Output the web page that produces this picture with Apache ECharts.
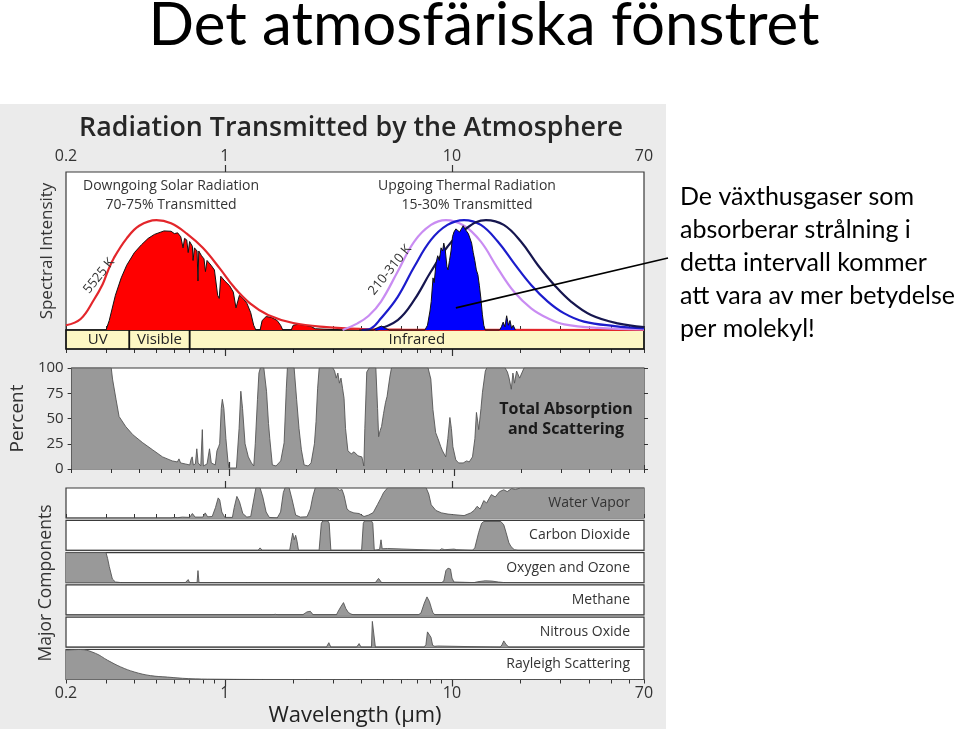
<!DOCTYPE html>
<html>
<head>
<meta charset="utf-8">
<title>Det atmosfäriska fönstret</title>
<script src="https://cdn.jsdelivr.net/npm/echarts@6/dist/echarts.min.js"></script>
<style>
html, body { margin: 0; padding: 0; background: #fff; }
#chart { width: 960px; height: 729px; }
</style>
</head>
<body>
<div id="chart"></div>
<script>
// wavelength axis (µm)
const minorTicks = [0.2, 0.3, 0.4, 0.5, 0.6, 0.7, 0.8, 0.9, 1, 2, 3, 4, 5, 6, 7, 8, 9, 10, 20, 30, 40, 50, 60, 70];
const majorTicks = [1, 10];
const percentTicks = [0, 25, 50, 75, 100];

// spectral band strip
const bandNames = ['UV', 'Visible', 'Infrared'];
const bandEdges = [0.2, 0.38, 0.7, 70];

// top panel: spectral intensity, 100 = top of the frame
const solarBlackbody = [[0.2, 3], [0.232, 7], [0.265, 19], [0.29, 29], [0.305, 37], [0.325, 45.6], [0.37, 58], [0.42, 66], [0.5, 69.6], [0.58, 67.5], [0.68, 61], [0.8, 52], [0.95, 39], [1.1, 27], [1.3, 16.5], [1.55, 9.5], [2.0, 4.4], [2.8, 1.8], [4, 0.6], [6, 0.2], [70, 0]];
const solarTransmitted = [[0.3, 0], [0.31, 6], [0.33, 22], [0.35, 33], [0.37, 41], [0.4, 49], [0.43, 54], [0.46, 58], [0.49, 60.5], [0.54, 62.7], [0.58, 62.5], [0.6, 61], [0.62, 61.5], [0.64, 59], [0.655, 52], [0.665, 58], [0.68, 57], [0.69, 49], [0.70, 56], [0.72, 53], [0.725, 44], [0.735, 52], [0.755, 50], [0.762, 31], [0.768, 50], [0.79, 47], [0.81, 45], [0.822, 37], [0.835, 44], [0.87, 41], [0.9, 38], [0.93, 22], [0.945, 20], [0.96, 34], [1.0, 31], [1.05, 28], [1.09, 24], [1.12, 14], [1.135, 13], [1.16, 22], [1.2, 20], [1.25, 17], [1.3, 11], [1.34, 3], [1.37, 0], [1.43, 0], [1.46, 6], [1.52, 8.5], [1.6, 8], [1.7, 6], [1.76, 3], [1.8, 0], [1.96, 0], [2.0, 3], [2.1, 3.6], [2.25, 3], [2.4, 2.2], [2.5, 0.8], [2.55, 0], [3.3, 0], [3.45, 0.6], [3.8, 0.8], [4.1, 0.3], [4.2, 0]];
const thermal310 = [[3.3, 0], [3.84, 4.2], [4.3, 9], [4.87, 18], [5.77, 37], [6.82, 56], [8.08, 66.5], [9.4, 69.6], [11.3, 66], [13.4, 55.9], [15.9, 39], [18.8, 24], [22.3, 13.7], [26.4, 7.4], [31.2, 3.6], [43.8, 1.3], [70, 0.4]];
const thermal260 = [[4.0, 0], [4.4, 1], [4.87, 7.4], [5.77, 21], [6.82, 40], [8.08, 57], [9.55, 66.5], [11.3, 69.6], [13.4, 66.5], [15.9, 56], [18.8, 42], [22.3, 28.5], [26.4, 18], [31.2, 10.5], [38.1, 5.3], [52, 2.5], [70, 1]];
const thermal210 = [[4.6, 0], [5.77, 6.3], [6.82, 19], [8.08, 37], [9.55, 52.7], [11.3, 63.3], [14.1, 69.6], [16.9, 66.5], [20.1, 56], [23.9, 41], [28.2, 28.5], [33.4, 18], [40.9, 9.5], [53.6, 4.2], [70, 1.9]];
const thermalTransmitted = [[3.9, 0], [4.5, 0], [4.7, 1.5], [4.9, 2.5], [5.1, 1], [5.3, 0], [7.6, 0], [7.8, 3], [8.0, 12], [8.1, 18], [8.25, 33], [8.35, 30], [8.5, 42], [8.65, 47], [8.8, 44], [8.95, 52], [9.1, 50], [9.2, 55], [9.35, 50], [9.5, 40], [9.6, 38], [9.75, 44], [9.9, 50], [10.05, 59], [10.2, 62], [10.4, 64], [10.6, 65], [10.8, 62], [11.0, 64], [11.2, 66], [11.4, 64], [11.6, 63], [11.8, 61], [12.0, 62], [12.2, 55], [12.4, 49], [12.6, 44], [12.8, 38], [13.0, 35], [13.2, 28], [13.4, 20], [13.6, 10], [13.8, 3], [14.0, 0], [16.2, 0], [16.5, 2], [16.8, 5], [17.1, 2], [17.4, 9], [17.7, 3], [18.0, 6], [18.3, 1], [18.6, 3], [19, 0]];

// total absorption and scattering (%)
const totalAbsorption = [[0.2, 100], [0.3, 100], [0.304, 89], [0.315, 69], [0.325, 52], [0.348, 42], [0.374, 34], [0.414, 26], [0.458, 19], [0.507, 12], [0.56, 8], [0.59, 7], [0.6, 10], [0.61, 6], [0.64, 5], [0.67, 4], [0.68, 10], [0.687, 12], [0.695, 4], [0.71, 5], [0.72, 20], [0.73, 6], [0.75, 3], [0.762, 39], [0.77, 3], [0.8, 5], [0.82, 20], [0.835, 6], [0.87, 4], [0.885, 18], [0.9, 22], [0.91, 25], [0.925, 60], [0.935, 69], [0.95, 60], [0.97, 30], [0.99, 8], [1.0, 1], [1.08, 1], [1.11, 40], [1.13, 77], [1.15, 60], [1.18, 25], [1.22, 12], [1.26, 6], [1.29, 3], [1.31, 25], [1.34, 69], [1.36, 95], [1.38, 100], [1.43, 100], [1.47, 77], [1.5, 45], [1.52, 30], [1.56, 4], [1.62, 3], [1.7, 8], [1.76, 26], [1.8, 80], [1.82, 100], [1.95, 100], [2.0, 69], [2.05, 40], [2.1, 19], [2.16, 4], [2.25, 3], [2.32, 6], [2.4, 25], [2.44, 47], [2.48, 80], [2.52, 100], [2.9, 100], [2.95, 97], [3.0, 90], [3.05, 95], [3.1, 85], [3.15, 90], [3.2, 80], [3.25, 70], [3.3, 40], [3.38, 18], [3.5, 15], [3.6, 17], [3.75, 13], [3.9, 12], [3.98, 3], [4.02, 40], [4.1, 96], [4.2, 100], [4.5, 100], [4.58, 60], [4.63, 32], [4.7, 38], [4.77, 42], [4.87, 55], [4.97, 66], [5.05, 72], [5.1, 79], [5.2, 92], [5.28, 100], [7.68, 100], [7.9, 89], [8.07, 59], [8.3, 36], [8.5, 30], [8.75, 22], [8.9, 18], [9.1, 14], [9.2, 12], [9.4, 30], [9.6, 51], [9.75, 40], [9.9, 22], [10.2, 9], [10.5, 6], [11, 6], [11.4, 8], [11.7, 7], [12.1, 12], [12.4, 30], [12.6, 56], [12.8, 45], [12.9, 39], [13.2, 60], [13.4, 76], [13.8, 97], [14, 100], [16.9, 100], [17.3, 96], [17.6, 90], [18, 79], [18.3, 95], [18.6, 85], [19, 97], [19.6, 90], [20.5, 100], [70, 100]];

// major components (relative absorption, 0-100 in each strip)
const componentNames = ['Water Vapor', 'Carbon Dioxide', 'Oxygen and Ozone', 'Methane', 'Nitrous Oxide', 'Rayleigh Scattering'];
const waterVapor = [[0.2, 0], [0.58, 0], [0.6, 2], [0.62, 1], [0.65, 3], [0.66, 1], [0.7, 2], [0.72, 15], [0.74, 3], [0.8, 3], [0.82, 17], [0.84, 4], [0.88, 5], [0.91, 35], [0.935, 67], [0.95, 60], [0.97, 20], [1.0, 2], [1.08, 2], [1.1, 35], [1.13, 72], [1.16, 55], [1.2, 15], [1.25, 3], [1.3, 5], [1.34, 60], [1.37, 100], [1.43, 100], [1.47, 70], [1.52, 20], [1.57, 2], [1.7, 0], [1.76, 20], [1.81, 85], [1.84, 100], [1.92, 100], [1.98, 60], [2.05, 10], [2.15, 3], [2.3, 4], [2.38, 30], [2.44, 72], [2.5, 100], [3.1, 100], [3.2, 92], [3.28, 95], [3.35, 75], [3.45, 30], [3.55, 22], [3.7, 17], [3.9, 15], [4.1, 5], [4.3, 10], [4.5, 18], [4.7, 45], [4.87, 67], [5.0, 85], [5.2, 100], [7.7, 100], [7.9, 80], [8.1, 44], [8.5, 25], [9, 17], [9.6, 13], [10.2, 11], [11.3, 8], [12.1, 17], [12.5, 25], [12.9, 39], [13.3, 30], [13.8, 58], [14.2, 50], [14.9, 78], [15.5, 70], [16.2, 88], [16.9, 94], [17.5, 88], [18.3, 98], [19, 95], [20, 100], [70, 100]];
const carbonDioxide = [[0.2, 0], [1.4, 0], [1.43, 8], [1.46, 0], [1.56, 0], [1.59, 4], [1.62, 0], [1.93, 0], [1.96, 30], [1.99, 57], [2.02, 35], [2.05, 50], [2.08, 30], [2.11, 0], [2.6, 0], [2.66, 90], [2.7, 98], [2.84, 98], [2.88, 90], [2.93, 0], [4.0, 0], [4.07, 90], [4.12, 98], [4.42, 98], [4.48, 90], [4.55, 0], [4.8, 3], [4.87, 35], [4.93, 5], [5.2, 6], [5.3, 0], [8.8, 0], [9.0, 5], [9.3, 2], [10.2, 4], [10.5, 2], [12.3, 0], [12.6, 8], [13.1, 59], [13.5, 90], [13.8, 96], [16.4, 96], [16.9, 85], [17.3, 59], [17.8, 25], [18.2, 12], [18.8, 2], [19.5, 0], [70, 0]];
const oxygenOzone = [[0.2, 100], [0.3, 100], [0.305, 80], [0.31, 54], [0.32, 12], [0.33, 2], [0.35, 0], [0.67, 0], [0.69, 10], [0.70, 0], [0.755, 0], [0.762, 40], [0.77, 0], [1.25, 0], [1.27, 6], [1.29, 0], [4.6, 0], [4.75, 14], [4.9, 0], [9.0, 0], [9.2, 5], [9.4, 40], [9.6, 48], [9.85, 45], [10.0, 15], [10.2, 2], [10.4, 0], [12.5, 0], [13, 3], [14, 6], [15, 5], [16, 2], [17, 0], [70, 0]];
const methane = [[0.2, 0], [1.6, 0], [1.67, 2], [1.72, 0], [2.2, 0], [2.3, 10], [2.38, 12], [2.45, 0], [3.1, 0], [3.14, 9], [3.24, 27], [3.33, 41], [3.41, 21], [3.5, 8], [3.59, 3], [3.7, 0], [7.1, 0], [7.3, 6], [7.55, 39], [7.76, 60], [7.95, 45], [8.1, 25], [8.22, 9], [8.4, 0], [70, 0]];
const nitrousOxide = [[0.2, 0], [2.8, 0], [2.87, 15], [2.93, 0], [3.8, 0], [3.9, 12], [3.98, 0], [4.42, 0], [4.46, 86], [4.55, 86], [4.6, 0], [7.55, 0], [7.68, 9], [7.8, 51], [7.95, 45], [8.08, 33], [8.22, 6], [8.4, 3], [8.65, 4], [8.8, 0], [16.3, 0], [16.6, 8], [16.9, 21], [17.3, 9], [17.8, 0], [70, 0]];
const rayleigh = [[0.2, 98], [0.232, 100], [0.27, 87], [0.305, 64], [0.348, 42], [0.4, 25], [0.47, 13], [0.56, 8], [0.69, 3], [0.9, 1], [2, 0], [70, 0]];
const componentData = [waterVapor, carbonDioxide, oxygenOzone, methane, nitrousOxide, rayleigh];

const noteLines = ['De växthusgaser som', 'absorberar strålning i', 'detta intervall kommer', 'att vara av mer betydelse', 'per molekyl!'];

const FIG_FONT = '"Open Sans", "DejaVu Sans", sans-serif';
const SLIDE_FONT = 'Lato, "Open Sans", sans-serif';

let myChart = echarts.init(document.getElementById('chart'));

// grids
let grids = [
  { left: 66, top: 172, width: 578, height: 158 },   // spectral intensity
  { left: 66, top: 330, width: 578, height: 19 },    // UV / Visible / Infrared
  { left: 66, top: 368, width: 578, height: 101 }    // percent
];
for (let i = 0; i < 6; i++) {
  grids.push({ left: 66, top: 488 + i * 32.3, width: 578, height: 30 });
}
grids = grids.map((g, i) => Object.assign({
  show: true,
  backgroundColor: i === 1 ? '#fdf7c4' : '#fff',
  borderColor: '#3a3a3a',
  borderWidth: 1.2,
  containLabel: false
}, g));

// x axes (log wavelength)
let xAxes = [];
let xIndex = {};
function addX(grid, position, ticks, label, name) {
  let base = {
    type: 'log', logBase: 10, min: 0.2, max: 70,
    gridIndex: grid, position: position,
    axisLine: { show: false },
    splitLine: { show: false },
    axisPointer: { show: false }
  };
  if (xIndex[grid] == null) xIndex[grid] = xAxes.length;
  if (!ticks) {
    xAxes.push(Object.assign(base, { axisTick: { show: false }, axisLabel: { show: false } }));
    return;
  }
  xAxes.push(Object.assign({}, base, {
    axisTick: { show: true, customValues: minorTicks, length: 4, lineStyle: { color: '#333', width: 1 } },
    axisLabel: label ? {
      show: true, fontSize: 16, color: '#333', fontFamily: FIG_FONT, margin: label.margin,
      formatter: v => String(+v.toPrecision(3))
    } : { show: false },
    name: name || '',
    nameLocation: 'middle',
    nameGap: 25,
    nameTextStyle: { fontSize: 22, color: '#222', fontFamily: FIG_FONT }
  }));
  xAxes.push(Object.assign({}, base, {
    axisTick: { show: true, customValues: majorTicks, length: 7, lineStyle: { color: '#333', width: 1.2 } },
    axisLabel: { show: false }
  }));
}
addX(0, 'top', true, { margin: 8 });
addX(1, 'bottom', true, null);
addX(2, 'top', true, null);
addX(2, 'bottom', true, null);
addX(3, 'top', true, null);
addX(4, 'bottom', false);
addX(5, 'bottom', false);
addX(6, 'bottom', false);
addX(7, 'bottom', false);
addX(8, 'bottom', true, { margin: 6 }, 'Wavelength (μm)');

// y axes
let yAxes = [];
let yIndex = {};
function hiddenY(grid, max, name, gap) {
  yIndex[grid] = yAxes.length;
  yAxes.push({
    type: 'value', gridIndex: grid, min: 0, max: max,
    axisLine: { show: false }, axisTick: { show: false }, axisLabel: { show: false },
    splitLine: { show: false },
    name: name || '', nameLocation: 'middle', nameGap: gap || 0,
    nameTextStyle: { fontSize: 17, color: '#333', fontFamily: FIG_FONT }
  });
}
hiddenY(0, 100, 'Spectral Intensity', 10);
hiddenY(1, 1);
yIndex[2] = yAxes.length;
yAxes.push({
  type: 'value', gridIndex: 2, min: 0, max: 100, interval: 25,
  axisLine: { show: false }, splitLine: { show: false },
  axisTick: { show: true, length: 4, lineStyle: { color: '#333' } },
  axisLabel: { fontSize: 15, color: '#333', fontFamily: FIG_FONT, margin: 8 },
  name: 'Percent', nameLocation: 'middle', nameGap: 39,
  nameTextStyle: { fontSize: 19, color: '#333', fontFamily: FIG_FONT }
});
yAxes.push({
  type: 'value', gridIndex: 2, min: 0, max: 100, interval: 25, position: 'right',
  axisLine: { show: false }, splitLine: { show: false },
  axisTick: { show: true, length: 4, lineStyle: { color: '#333' } },
  axisLabel: { show: false }
});
for (let g = 3; g < 9; g++) hiddenY(g, 100);

function lineSeries(grid, data, extra) {
  return Object.assign({
    type: 'line',
    xAxisIndex: xIndex[grid],
    yAxisIndex: yIndex[grid],
    data: data,
    showSymbol: false,
    symbol: 'none',
    silent: true,
    animation: false
  }, extra);
}

let series = [
  lineSeries(0, solarTransmitted, {
    lineStyle: { color: '#111', width: 1 },
    areaStyle: { color: '#ff0000', opacity: 1 },
    z: 2
  }),
  lineSeries(0, solarBlackbody, {
    smooth: 0.4,
    lineStyle: { color: '#e3262b', width: 2.2 },
    z: 3
  }),
  lineSeries(0, thermal310, {
    smooth: 0.4,
    lineStyle: { color: '#c98cf2', width: 2.2 },
    z: 3
  }),
  lineSeries(0, thermal260, {
    smooth: 0.4,
    lineStyle: { color: '#1c1ccc', width: 2.2 },
    z: 3
  }),
  lineSeries(0, thermal210, {
    smooth: 0.4,
    lineStyle: { color: '#16164f', width: 2.2 },
    z: 3
  }),
  lineSeries(0, thermalTransmitted, {
    lineStyle: { color: '#111', width: 1 },
    areaStyle: { color: '#0000ff', opacity: 1 },
    clip: false,
    z: 4,
    markLine: {
      silent: true,
      symbol: ['none', 'arrow'],
      symbolSize: [0, 11],
      label: { show: false },
      lineStyle: { color: '#000', width: 1.6, type: 'solid' },
      data: [[{ x: 668, y: 258 }, { coord: [10.4, 14] }]]
    }
  }),
  lineSeries(1, [], {
    markArea: {
      silent: true,
      itemStyle: { color: 'rgba(0,0,0,0)', borderColor: '#111', borderWidth: 1.5 },
      label: { show: true, position: 'inside', color: '#222', fontSize: 15, fontFamily: FIG_FONT },
      data: bandNames.map((n, i) => [{ xAxis: bandEdges[i], name: n }, { xAxis: bandEdges[i + 1] }])
    }
  }),
  lineSeries(2, totalAbsorption, {
    lineStyle: { color: '#555', width: 0.9 },
    areaStyle: { color: '#999999', opacity: 1 }
  })
];
componentData.forEach((d, i) => {
  series.push(lineSeries(3 + i, d, {
    smooth: i === 5 ? 0.4 : false,
    lineStyle: { color: '#555', width: 0.9 },
    areaStyle: { color: '#999999', opacity: 1 }
  }));
});

// texts and decorations (texts sit above the series)
let graphics = [
  { type: 'rect', z: -100, shape: { x: 0, y: 104, width: 666, height: 625 }, style: { fill: '#ebebeb' } },
  { type: 'text', z: 100, x: 484, y: 26, style: { text: 'Det atmosfäriska fönstret', fontSize: 60, fontFamily: SLIDE_FONT, fill: '#000', align: 'center', verticalAlign: 'middle' } },
  { type: 'text', z: 100, x: 351, y: 128, style: { text: 'Radiation Transmitted by the Atmosphere', fontSize: 26.8, fontWeight: 600, fontFamily: FIG_FONT, fill: '#262626', align: 'center', verticalAlign: 'middle' } },
  { type: 'text', z: 100, x: 171, y: 196, style: { text: 'Downgoing Solar Radiation\n70-75% Transmitted', fontSize: 14, lineHeight: 19, fontFamily: FIG_FONT, fill: '#333', align: 'center', verticalAlign: 'middle' } },
  { type: 'text', z: 100, x: 467, y: 196, style: { text: 'Upgoing Thermal Radiation\n15-30% Transmitted', fontSize: 14, lineHeight: 19, fontFamily: FIG_FONT, fill: '#333', align: 'center', verticalAlign: 'middle' } },
  { type: 'text', z: 100, x: 99, y: 276, rotation: 0.89, style: { text: '5525 K', fontSize: 13, fontFamily: FIG_FONT, fill: '#333', align: 'center', verticalAlign: 'middle' } },
  { type: 'text', z: 100, x: 390, y: 270, rotation: 0.89, style: { text: '210-310 K', fontSize: 13, fontFamily: FIG_FONT, fill: '#333', align: 'center', verticalAlign: 'middle' } },
  { type: 'text', z: 100, x: 566, y: 419, style: { text: 'Total Absorption\nand Scattering', fontSize: 16, lineHeight: 20, fontWeight: 'bold', fontFamily: FIG_FONT, fill: '#1a1a1a', align: 'center', verticalAlign: 'middle' } },
  { type: 'text', z: 100, x: 46, y: 583, rotation: Math.PI / 2, style: { text: 'Major Components', fontSize: 17.5, fontFamily: FIG_FONT, fill: '#333', align: 'center', verticalAlign: 'middle' } },
  { type: 'text', z: 100, x: 680, y: 180, style: { text: noteLines.join('\n'), fontSize: 25, lineHeight: 33, fontFamily: SLIDE_FONT, fill: '#000', align: 'left', verticalAlign: 'top' } }
];
componentNames.forEach((n, i) => {
  graphics.push({
    type: 'text', z: 100, x: 630, y: 488 + i * 32.3 + 15,
    style: { text: n, fontSize: 14, fontFamily: FIG_FONT, fill: '#333', align: 'right', verticalAlign: 'middle' }
  });
});

myChart.setOption({
  backgroundColor: '#fff',
  animation: false,
  grid: grids,
  xAxis: xAxes,
  yAxis: yAxes,
  series: series,
  graphic: graphics
});
</script>
</body>
</html>
